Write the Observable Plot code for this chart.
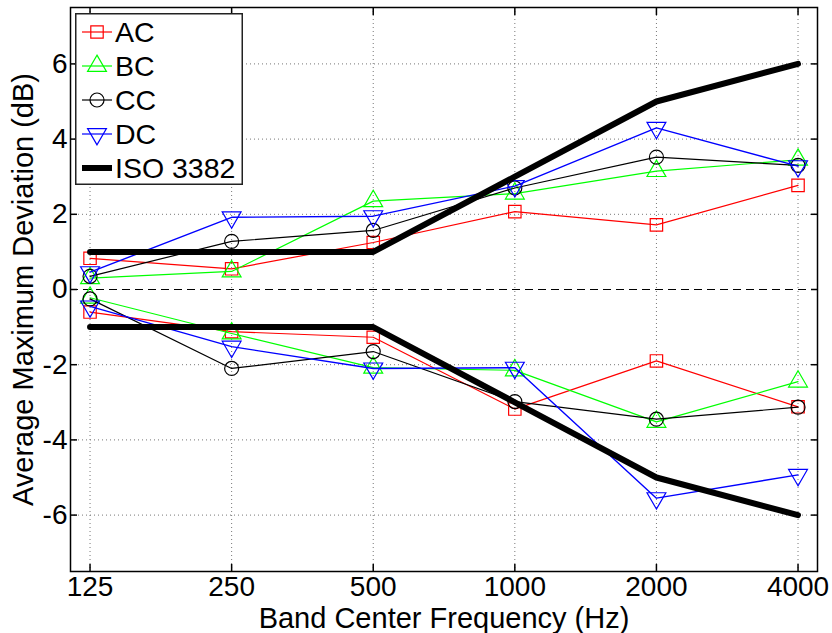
<!DOCTYPE html>
<html><head><meta charset="utf-8">
<script src="https://cdn.jsdelivr.net/npm/d3@7"></script>
<script src="https://cdn.jsdelivr.net/npm/@observablehq/plot@0.6"></script>
<style>
html,body{margin:0;padding:0;background:#fff;}
#wrap{position:relative;width:832px;height:633px;font-family:"Liberation Sans",Arial,sans-serif;}
#legend{position:absolute;left:75px;top:13px;}
</style></head><body><div id="wrap"></div>
<script>
const freqs = [125, 250, 500, 1000, 2000, 4000];
const yTicks = [-6, -4, -2, 0, 2, 4, 6];

const acUpper = [0.83, 0.55, 1.25, 2.07, 1.72, 2.77];
const acLower = [-0.6, -1.12, -1.27, -3.18, -1.9, -3.12];
const bcUpper = [0.3, 0.48, 2.35, 2.55, 3.15, 3.45];
const bcLower = [-0.22, -1.17, -2.08, -2.15, -3.52, -2.45];
const ccUpper = [0.35, 1.28, 1.57, 2.7, 3.52, 3.3];
const ccLower = [-0.25, -2.1, -1.65, -2.98, -3.45, -3.13];
const dcUpper = [0.46, 1.92, 1.95, 2.75, 4.3, 3.28];
const dcLower = [-0.45, -1.52, -2.1, -2.08, -5.55, -4.93];
const isoUpper = [1, 1, 1, 3, 5, 6];
const isoLower = [-1, -1, -1, -3, -5, -6];

const seriesNames = ["AC", "BC", "CC", "DC"];
const seriesColors = ["#ff0000", "#00ff00", "#000000", "#0000ff"];
const seriesSymbols = ["square", "triangle", "circle", "triangle"];
const seriesRotate = [0, 0, 0, 180];
const seriesUpper = [acUpper, bcUpper, ccUpper, dcUpper];
const seriesLower = [acLower, bcLower, ccLower, dcLower];
const isoName = "ISO 3382";

const FONT = "'Liberation Sans', Arial, sans-serif";

function seriesMarks(vals, k) {
  const data = freqs.map((f, i) => ({f, v: vals[i]}));
  return [
    Plot.line(data, {x: "f", y: "v", stroke: seriesColors[k], strokeWidth: k === 3 ? 1.4 : 1.2}),
    Plot.dot(data, {x: "f", y: "v", stroke: seriesColors[k], fill: "none", strokeWidth: 1.2,
      symbol: seriesSymbols[k], rotate: seriesRotate[k], r: 7})
  ];
}

const marks = [
  Plot.gridX(freqs, {stroke: "#777", strokeOpacity: 1, strokeDasharray: "1,3", strokeWidth: 1}),
  Plot.gridY(yTicks.filter(d => d !== 0), {stroke: "#777", strokeOpacity: 1, strokeDasharray: "1,3", strokeWidth: 1}),
  Plot.ruleY([0], {stroke: "#000", strokeDasharray: "8,5", strokeWidth: 1.2}),
];
for (let k = 0; k < 4; k++) {
  marks.push(...seriesMarks(seriesUpper[k], k));
  marks.push(...seriesMarks(seriesLower[k], k));
}
marks.push(Plot.line(freqs.map((f, i) => ({f, v: isoUpper[i]})), {x: "f", y: "v", stroke: "#000", strokeWidth: 6}));
marks.push(Plot.line(freqs.map((f, i) => ({f, v: isoLower[i]})), {x: "f", y: "v", stroke: "#000", strokeWidth: 6}));
// tick labels
marks.push(Plot.axisX(freqs, {anchor: "bottom", tickSize: 0, tickPadding: 5, tickFormat: d => String(d), fontSize: 28, label: null}));
marks.push(Plot.axisY(yTicks, {anchor: "left", tickSize: 0, tickPadding: 3, tickFormat: d => String(d), fontSize: 28, label: null}));
// inward ticks and axis titles
marks.push(Plot.axisX(freqs, {anchor: "bottom", tickSize: -7, tickFormat: () => "", strokeWidth: 1.5, fontSize: 29,
  label: "Band Center Frequency (Hz)", labelAnchor: "center", labelOffset: 56, labelArrow: "none"}));
marks.push(Plot.axisX(freqs, {anchor: "top", tickSize: -7, tickFormat: () => "", strokeWidth: 1.5, label: null}));
marks.push(Plot.axisY(yTicks, {anchor: "left", tickSize: -7, tickFormat: () => "", strokeWidth: 1.5, fontSize: 29,
  label: "Average Maximum Deviation (dB)", labelAnchor: "center", labelOffset: 58, labelArrow: "none"}));
marks.push(Plot.axisY(yTicks, {anchor: "right", tickSize: -7, tickFormat: () => "", strokeWidth: 1.5, label: null}));
marks.push(Plot.frame({stroke: "#000", strokeWidth: 1.5}));

const chart = Plot.plot({
  width: 832,
  height: 633,
  marginLeft: 70,
  marginRight: 15,
  marginTop: 7,
  marginBottom: 62,
  style: {fontFamily: FONT, color: "#000", background: "#fff", overflow: "visible"},
  x: {type: "log", base: 2, domain: [113.6, 4400]},
  y: {domain: [-7.5, 7.5]},
  marks
});
const wrap = document.getElementById("wrap");
wrap.appendChild(chart);

// legend (inside the plot, top-left)
const lw = 168, lh = 172, rowH = 34, row0 = 19;
const svg = d3.create("svg").attr("id", "legend").attr("width", lw).attr("height", lh)
  .style("font-family", FONT);
svg.append("rect").attr("x", 0.75).attr("y", 0.75).attr("width", lw - 1.5).attr("height", lh - 1.5)
  .attr("fill", "#fff").attr("stroke", "#222").attr("stroke-width", 1.5);
const symMap = {square: d3.symbolSquare, triangle: d3.symbolTriangle, circle: d3.symbolCircle};
seriesNames.forEach((name, k) => {
  const y = row0 + k * rowH;
  svg.append("line").attr("x1", 7).attr("x2", 37).attr("y1", y).attr("y2", y)
    .attr("stroke", seriesColors[k]).attr("stroke-width", 1.2);
  svg.append("path").attr("d", d3.symbol(symMap[seriesSymbols[k]], Math.PI * 49)())
    .attr("transform", `translate(22,${y}) rotate(${seriesRotate[k]})`)
    .attr("fill", "none").attr("stroke", seriesColors[k]).attr("stroke-width", 1.2);
  svg.append("text").attr("x", 40).attr("y", y).attr("dy", "0.35em").attr("font-size", 28.5).text(name);
});
{
  const y = row0 + 4 * rowH;
  svg.append("line").attr("x1", 7).attr("x2", 37).attr("y1", y).attr("y2", y)
    .attr("stroke", "#000").attr("stroke-width", 6);
  svg.append("text").attr("x", 40).attr("y", y).attr("dy", "0.35em").attr("font-size", 28.5).text(isoName);
}
wrap.appendChild(svg.node());
</script>
</body></html>
